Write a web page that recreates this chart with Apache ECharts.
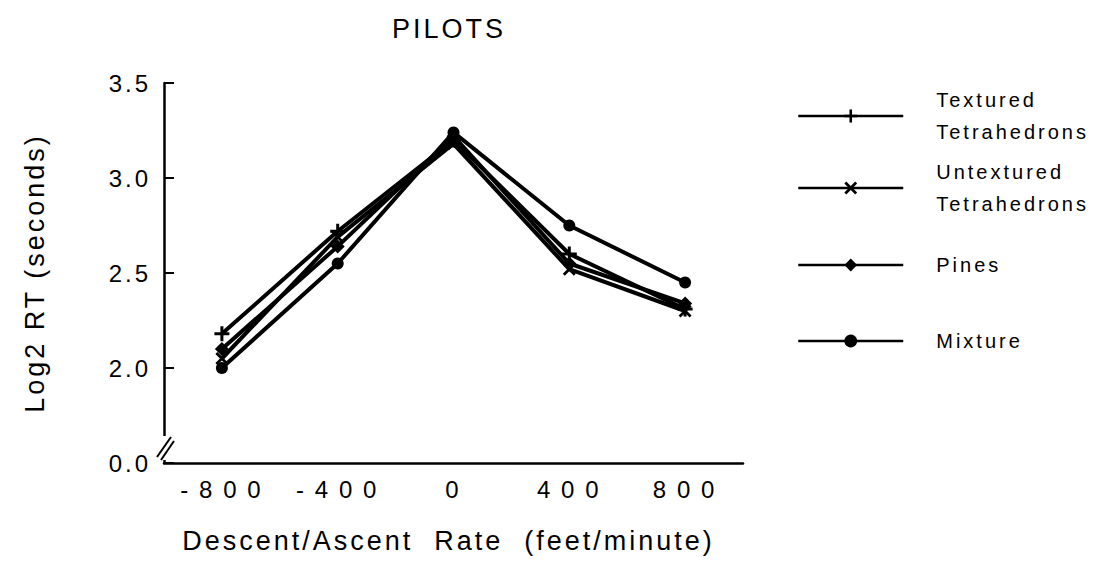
<!DOCTYPE html>
<html>
<head>
<meta charset="utf-8">
<script src="https://cdn.jsdelivr.net/npm/echarts@6/dist/echarts.min.js"></script>
<style>
  html, body { margin: 0; padding: 0; background: #fff; }
  #chart { width: 1101px; height: 566px; }
  #chart text { letter-spacing: 3px; }
</style>
</head>
<body>
<div id="chart"></div>
<script>
// Descent/ascent rate categories (feet/minute)
const rates = ['-800', '-400', '0', '400', '800'];

// Log2 reaction time (seconds) per scene type
const textured   = [2.18, 2.72, 3.20, 2.60, 2.31];
const untextured = [2.05, 2.69, 3.18, 2.52, 2.30];
const pines      = [2.10, 2.64, 3.22, 2.55, 2.34];
const mixture    = [2.00, 2.55, 3.24, 2.75, 2.45];

const seriesNames = ['Textured\nTetrahedrons', 'Untextured\nTetrahedrons', 'Pines', 'Mixture'];

// y axis: the bottom tick stands in for 0.0 across the axis break
const yMin = 1.5, yMax = 3.5, yStep = 0.5;
const yLabel = v => (Math.abs(v - yMin) < 1e-9 ? '0.0' : v.toFixed(1));

const FONT = '"Liberation Sans", Arial, Helvetica, sans-serif';
const INK = '#000';

const plusPath = 'path://M4,0 H6 V4 H10 V6 H6 V10 H4 V6 H0 V4 H4 Z';
const crossPath = 'path://M0,1.5 L1.5,0 L5,3.5 L8.5,0 L10,1.5 L6.5,5 L10,8.5 L8.5,10 L5,6.5 L1.5,10 L0,8.5 L3.5,5 Z';

function lineSeries(name, data, symbol, size) {
  return {
    name, type: 'line', data, symbol, symbolSize: size,
    lineStyle: { color: INK, width: 4 },
    itemStyle: { color: INK, borderWidth: 0 },
    emphasis: { disabled: true },
    animation: false
  };
}

function legendAt(name, top) {
  return {
    data: [name], left: 792, top, orient: 'vertical',
    itemWidth: 105, itemHeight: 16,
    selectedMode: false,
    lineStyle: { width: 2.5 },
    textStyle: { fontFamily: FONT, fontSize: 20, color: INK, lineHeight: 32, padding: [0, 0, 0, 28] }
  };
}

const chart = echarts.init(document.getElementById('chart'), null, { renderer: 'svg' });

chart.setOption({
  backgroundColor: '#fff',
  animation: false,
  title: {
    text: 'PILOTS', left: 444, top: 10, textAlign: 'center',
    textStyle: { fontFamily: FONT, fontSize: 27, fontWeight: 'normal', color: INK }
  },
  legend: [
    legendAt(seriesNames[0], 79),
    legendAt(seriesNames[1], 151),
    legendAt(seriesNames[2], 244),
    legendAt(seriesNames[3], 320)
  ],
  grid: { left: 164, right: 358, top: 83, bottom: 103 },
  xAxis: {
    type: 'category', data: rates, boundaryGap: true,
    name: 'Descent/Ascent  Rate  (feet/minute)', nameLocation: 'middle', nameGap: 64,
    nameTextStyle: { fontFamily: FONT, fontSize: 27, color: INK, padding: [0, 10, 0, 0] },
    axisLine: { lineStyle: { color: INK, width: 2.5 } },
    axisTick: { inside: true, alignWithLabel: true, length: 10, lineStyle: { color: INK, width: 2 } },
    axisLabel: {
      fontFamily: FONT, fontSize: 24, color: INK, margin: 14,
      formatter: v => v.split('').join('\u2009')
    },
    splitLine: { show: false }
  },
  yAxis: {
    type: 'value', min: yMin, max: yMax, interval: yStep,
    name: 'Log2 RT (seconds)', nameLocation: 'middle', nameGap: 116,
    nameTextStyle: { fontFamily: FONT, fontSize: 27, color: INK },
    axisLine: { show: true, lineStyle: { color: INK, width: 2.5 } },
    axisTick: { show: true, inside: true, length: 10, lineStyle: { color: INK, width: 2 } },
    axisLabel: { fontFamily: FONT, fontSize: 24, color: INK, margin: 13, formatter: yLabel },
    splitLine: { show: false }
  },
  series: [
    lineSeries(seriesNames[0], textured, plusPath, 15),
    lineSeries(seriesNames[1], untextured, crossPath, 13),
    lineSeries(seriesNames[2], pines, 'diamond', 14),
    lineSeries(seriesNames[3], mixture, 'circle', 12)
  ]
});

// Axis-break marks just above the bottom of the y axis
const axisX = 164;
const yBottom = chart.convertToPixel({ yAxisIndex: 0 }, yMin);
chart.setOption({
  graphic: [
    { type: 'rect', shape: { x: axisX - 4, y: yBottom - 27, width: 8, height: 24 }, style: { fill: '#fff' }, z: 100 },
    { type: 'line', shape: { x1: axisX - 7, y1: yBottom - 6, x2: axisX + 7, y2: yBottom - 26 }, style: { stroke: INK, lineWidth: 2 }, z: 101 },
    { type: 'line', shape: { x1: axisX - 3, y1: yBottom - 3, x2: axisX + 10, y2: yBottom - 22 }, style: { stroke: INK, lineWidth: 2 }, z: 101 }
  ]
});
</script>
</body>
</html>
